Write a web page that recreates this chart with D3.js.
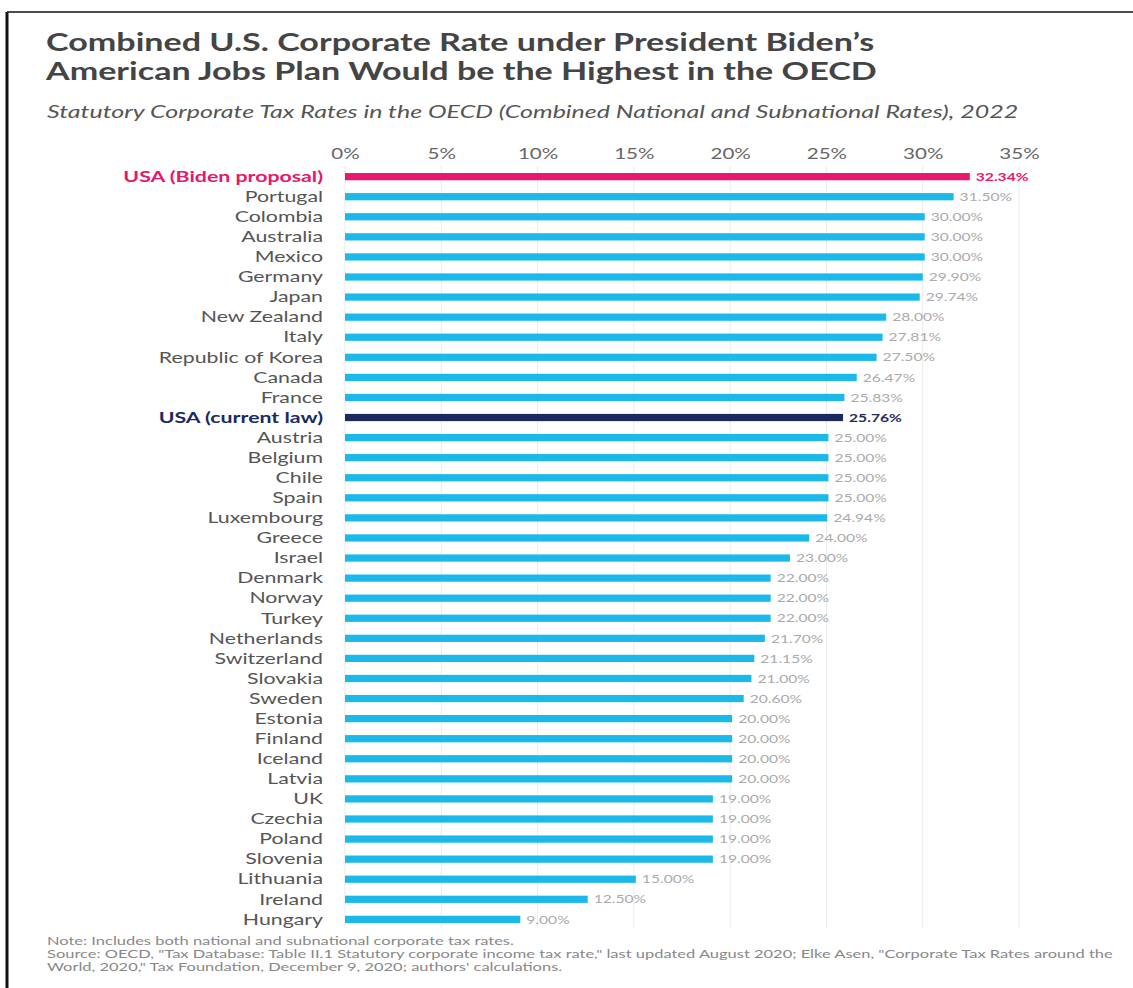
<!DOCTYPE html>
<html lang="en">
<head>
<meta charset="UTF-8">
<title>Combined U.S. Corporate Rate</title>
<script src="https://cdnjs.cloudflare.com/ajax/libs/d3/7.8.5/d3.min.js"></script>
<style>
    body { margin: 0; padding: 0; background: #fff; }
    svg { display: block; font-family: Lato, "Open Sans", sans-serif; }
</style>
</head>
<body>
<div id="chart"></div>
<script>
    const countries = ["USA (Biden proposal)", "Portugal", "Colombia", "Australia", "Mexico", "Germany", "Japan",
        "New Zealand", "Italy", "Republic of Korea", "Canada", "France", "USA (current law)", "Austria", "Belgium",
        "Chile", "Spain", "Luxembourg", "Greece", "Israel", "Denmark", "Norway", "Turkey", "Netherlands",
        "Switzerland", "Slovakia", "Sweden", "Estonia", "Finland", "Iceland", "Latvia", "UK", "Czechia", "Poland",
        "Slovenia", "Lithuania", "Ireland", "Hungary"];
    const rates = [32.34, 31.50, 30.00, 30.00, 30.00, 29.90, 29.74, 28.00, 27.81, 27.50, 26.47, 25.83, 25.76,
        25.00, 25.00, 25.00, 25.00, 24.94, 24.00, 23.00, 22.00, 22.00, 22.00, 21.70, 21.15, 21.00, 20.60,
        20.00, 20.00, 20.00, 20.00, 19.00, 19.00, 19.00, 19.00, 15.00, 12.50, 9.00];
    const ticks = [0, 5, 10, 15, 20, 25, 30, 35];
    const highlights = { "USA (Biden proposal)": "#e5186e", "USA (current law)": "#1d2a5e" };

    const W = 1133, H = 988;
    const SX = 1.42; // the original picture is stretched sideways
    const svg = d3.select("#chart").append("svg").attr("width", W).attr("height", H);

    // place text at (x, y) and stretch it horizontally around that point
    function stretch(sel, xf, yf) {
        sel.attr("transform", (d, i) => {
            const px = typeof xf === "function" ? xf(d, i) : xf;
            const py = typeof yf === "function" ? yf(d, i) : yf;
            return `translate(${px},${py}) scale(${SX},1)`;
        });
        return sel;
    }

    // frame
    svg.append("line").attr("x1", 7).attr("x2", W).attr("y1", 12).attr("y2", 12)
        .attr("stroke", "#111").attr("stroke-width", 1.5);
    svg.append("line").attr("x1", 7).attr("x2", 7).attr("y1", 12).attr("y2", H)
        .attr("stroke", "#111").attr("stroke-width", 3);

    // titles
    const titleLines = ["Combined U.S. Corporate Rate under President Biden’s",
        "American Jobs Plan Would be the Highest in the OECD"];
    svg.append("g").selectAll("text").data(titleLines).join("text")
        .attr("fill", "#444").style("font-size", "24px").style("font-weight", "bold")
        .text(d => d)
        .call(stretch, 46, (d, i) => 51 + i * 29);

    svg.append("text").attr("fill", "#555")
        .style("font-size", "17.6px").style("font-style", "italic")
        .text("Statutory Corporate Tax Rates in the OECD (Combined National and Subnational Rates), 2022")
        .call(stretch, 47, 118);

    const x = d3.scaleLinear().domain([0, 35]).range([345, 1019]);
    const y = d3.scaleBand().domain(countries).range([167, 929]).paddingInner(0.64).paddingOuter(0.3);

    // gridlines
    svg.append("g").selectAll("line").data(ticks).join("line")
        .attr("x1", d => x(d)).attr("x2", d => x(d))
        .attr("y1", 166).attr("y2", 928)
        .attr("stroke", "#ebebeb").attr("stroke-width", 1);

    // axis on top
    const axis = svg.append("g").attr("transform", "translate(0,159)")
        .call(d3.axisTop(x).tickValues(ticks).tickFormat(d => d + "%").tickSize(0).tickPadding(0));
    axis.select(".domain").remove();
    axis.selectAll("text").attr("fill", "#666").style("font-size", "14.5px")
        .style("font-family", "Lato, sans-serif")
        .attr("y", 0).attr("dy", 0)
        .call(stretch, 0, 0);

    const rows = countries.map((c, i) => ({ name: c, value: rates[i] }));

    // bars
    svg.append("g").selectAll("rect").data(rows).join("rect")
        .attr("x", x(0))
        .attr("y", d => y(d.name))
        .attr("width", d => x(d.value) - x(0) + 2)
        .attr("height", y.bandwidth())
        .attr("fill", d => highlights[d.name] || "#1bb8ea");

    // category labels
    svg.append("g").selectAll("text").data(rows).join("text")
        .attr("dy", "0.35em")
        .attr("text-anchor", "end")
        .attr("fill", d => highlights[d.name] || "#555")
        .style("font-size", "15px")
        .style("font-weight", d => highlights[d.name] ? "bold" : "normal")
        .text(d => d.name)
        .call(stretch, 323, d => y(d.name) + y.bandwidth() / 2);

    // value labels
    svg.append("g").selectAll("text").data(rows).join("text")
        .attr("dy", "0.38em")
        .attr("fill", d => highlights[d.name] || "#aaa")
        .style("font-size", "11px")
        .style("font-weight", d => highlights[d.name] ? "bold" : "normal")
        .text(d => d.value.toFixed(2) + "%")
        .call(stretch, d => x(d.value) + 8, d => y(d.name) + y.bandwidth() / 2);

    // notes
    const notes = [
        "Note: Includes both national and subnational corporate tax rates.",
        "Source: OECD, \"Tax Database: Table II.1 Statutory corporate income tax rate,\" last updated August 2020; Elke Asen, \"Corporate Tax Rates around the",
        "World, 2020,\" Tax Foundation, December 9, 2020; authors' calculations."
    ];
    svg.append("g").selectAll("text").data(notes).join("text")
        .attr("fill", "#888").style("font-size", "11.6px")
        .text(d => d)
        .call(stretch, 47, (d, i) => 945 + i * 13);
</script>
</body>
</html>
